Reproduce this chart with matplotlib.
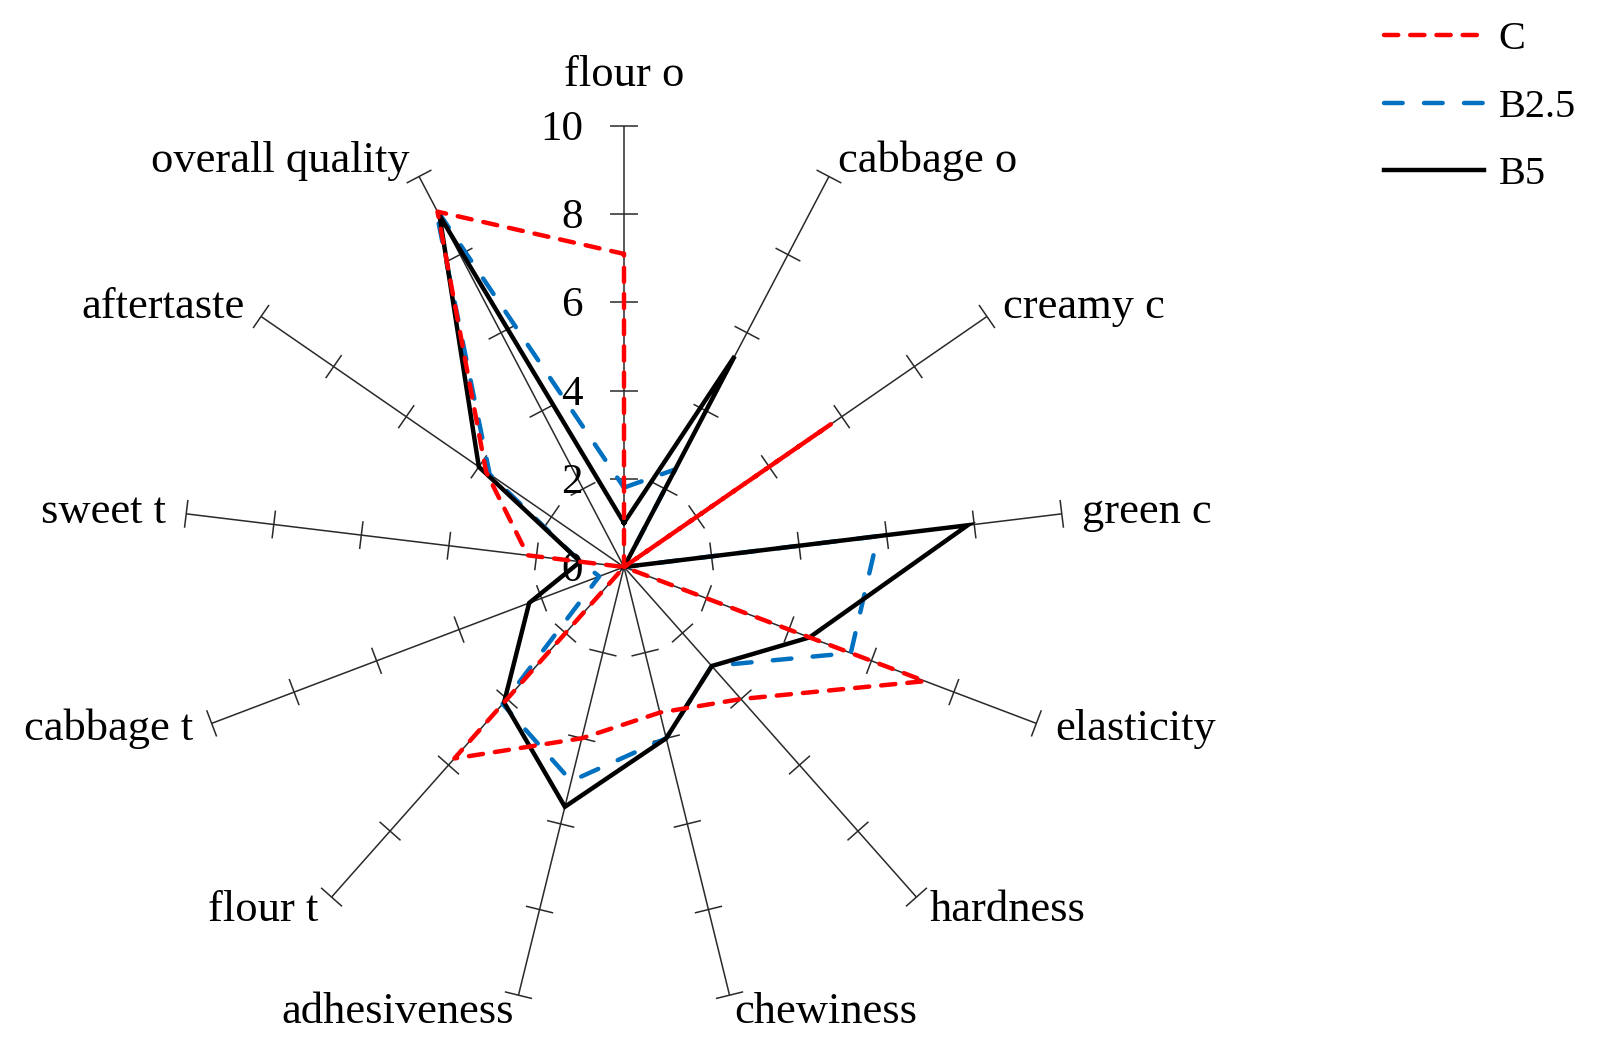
import numpy as np
import matplotlib
matplotlib.use("Agg")
import matplotlib.pyplot as plt
from matplotlib.lines import Line2D

plt.rcParams['font.family'] = ['Liberation Serif', 'DejaVu Serif']

# ---------------- data ----------------
categories = ['flour o', 'cabbage o', 'creamy c', 'green c', 'elasticity', 'hardness',
              'chewiness', 'adhesiveness', 'flour t', 'cabbage t', 'sweet t',
              'aftertaste', 'overall quality']
series_names = ['C', 'B2.5', 'B5']
values_C = [7.1, 0.0, 5.7, 0.0, 7.3, 4.0, 3.4, 4.0, 5.8, 0.0, 2.2, 3.8, 9.1]
values_B25 = [1.8, 2.5, 0.0, 5.8, 5.5, 3.0, 4.0, 5.0, 4.15, 0.6, 1.0, 3.7, 9.2]
values_B5 = [1.0, 5.4, 0.0, 7.85, 4.5, 3.0, 4.0, 5.6, 4.1, 2.3, 1.0, 4.0, 9.0]
r_ticks = [0, 2, 4, 6, 8, 10]
r_max = 10

# ---------------- layout ----------------
W, H = 1599, 1050
S = 44.1            # pixels per data unit
cx, cy = 624, 567   # centre in pixels (from top-left)

fig = plt.figure(figsize=(W / 100, H / 100), dpi=100)
ax = fig.add_axes([0, 0, 1, 1])
ax.set_xlim(-cx / S, (W - cx) / S)
ax.set_ylim(-(H - cy) / S, cy / S)
ax.axis('off')

n = len(categories)
theta = np.arange(n) * 2 * np.pi / n
ux, uy = np.sin(theta), np.cos(theta)

spoke_col = '#2a2a2a'
half = 14 / S
for i in range(n):
    ax.plot([0, r_max * ux[i]], [0, r_max * uy[i]], color=spoke_col, lw=1.1, zorder=1,
            solid_capstyle='butt')
    for r in r_ticks[1:]:
        px, py = r * ux[i], r * uy[i]
        ax.plot([px - half * uy[i], px + half * uy[i]], [py + half * ux[i], py - half * ux[i]],
                color=spoke_col, lw=1.1, zorder=1, solid_capstyle='butt')

FS = 32
# category labels
for i, lab in enumerate(categories):
    ex, ey = r_max * ux[i], r_max * uy[i]
    if i == 0:
        ax.text(ex, ey + 40 / S, lab, ha='center', va='baseline', fontsize=FS)
        continue
    dx = 20 * ux[i] / S
    dy = -(11 - 17 * uy[i]) / S
    ha = 'left' if ux[i] > 0 else 'right'
    ax.text(ex + dx, ey + dy, lab, ha=ha, va='baseline', fontsize=FS)

# radial tick labels
for v in r_ticks:
    ax.text(-41 / S, v - 14 / S, str(v), ha='right', va='baseline', fontsize=31)


def closed(vals):
    v = np.asarray(vals, dtype=float)
    x = v * ux
    y = v * uy
    return np.append(x, x[0]), np.append(y, y[0])


lw = 3.2
c_on, c_off = 3.2, 2.7
# dash phase for C chosen so that the out-and-back segment to "creamy c" overlaps into a solid stroke
pt_per_unit = S * 72 / 100
p_before = values_C[0] * pt_per_unit          # flour o -> centre
L_out = values_C[2] * pt_per_unit             # centre -> creamy c
P = (c_on + c_off) * lw
off_pts = ((-(p_before + L_out)) % (P / 2))
c_offset = off_pts / lw

styles = {
    'C': dict(color='#FF0000', lw=lw, linestyle=(c_offset, (c_on, c_off)), dash_capstyle='round', zorder=5),
    'B2.5': dict(color='#0070C0', lw=lw, linestyle=(0, (4.2, 4.8)), dash_capstyle='round', zorder=3),
    'B5': dict(color='black', lw=lw, linestyle='-', solid_joinstyle='miter', zorder=4),
}
data = {'C': values_C, 'B2.5': values_B25, 'B5': values_B5}
for name in ['B2.5', 'B5', 'C']:
    x, y = closed(data[name])
    ax.plot(x, y, **styles[name])

leg_styles = {
    'C': dict(color='#FF0000', lw=lw, linestyle=(0, (c_on, c_off)), dash_capstyle='round'),
    'B2.5': dict(color='#0070C0', lw=lw, linestyle=(0, (4.2, 4.8)), dash_capstyle='round'),
    'B5': dict(color='black', lw=lw, linestyle='-'),
}
handles = [Line2D([], [], **leg_styles[nm]) for nm in series_names]
leg = ax.legend(handles, series_names, loc='upper left',
                bbox_to_anchor=(1384 / W, 1 - 21 / H), bbox_transform=fig.transFigure,
                frameon=False, fontsize=29, handlelength=2.48, handletextpad=0.37,
                labelspacing=0.75, borderpad=0, borderaxespad=0)

fig.savefig('out.png', dpi=100)
